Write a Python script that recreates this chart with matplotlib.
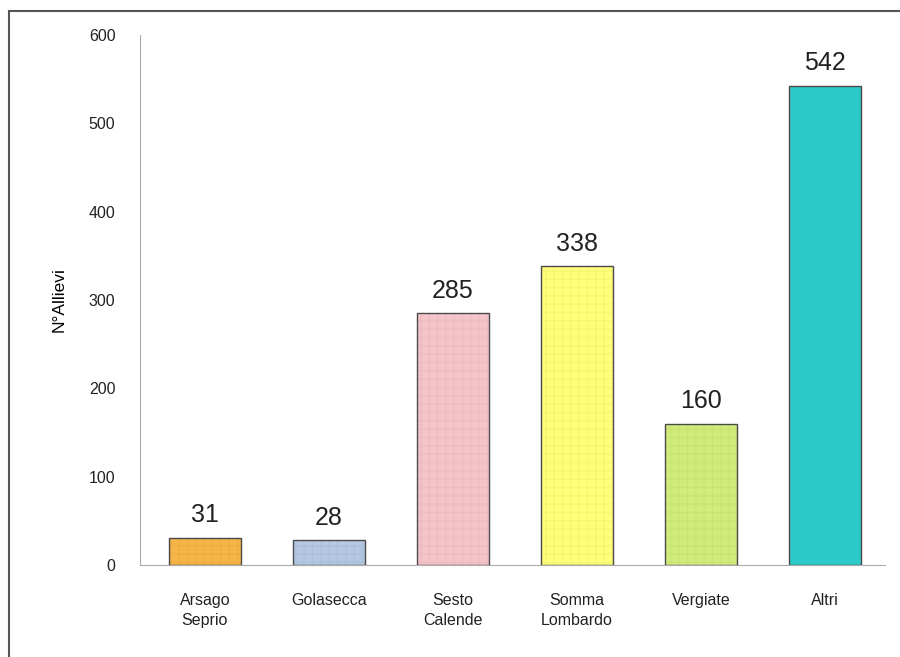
import matplotlib
matplotlib.use('Agg')
import matplotlib.pyplot as plt
from matplotlib.patches import Rectangle

plt.rcParams['font.family'] = ['Liberation Sans', 'DejaVu Sans']

# Data
categories = ['Arsago\nSeprio', 'Golasecca', 'Sesto\nCalende', 'Somma\nLombardo', 'Vergiate', 'Altri']
allievi = [31, 28, 285, 338, 160, 542]
colors = ['#F7B548', '#B4C8E4', '#F4C4C8', '#FFFF7A', '#D2EC7C', '#2ECACA']
hatch_colors = ['#EEAE44', '#ACC0DC', '#ECBCC0', '#F6F672', '#CAE474', '#2ECACA']

fig = plt.figure(figsize=(9, 6.57), dpi=100)
ax = fig.add_axes([0.156, 0.14, 0.827, 0.807])

x = range(len(categories))
# faint grid texture inside the bars
ax.bar(x, allievi, width=0.58, color=colors, edgecolor=hatch_colors,
       hatch='++', linewidth=0, zorder=2)
bars = ax.bar(x, allievi, width=0.58, color='none', edgecolor='#4a4a4a',
              linewidth=1.0, zorder=3)

for xi, v in zip(x, allievi):
    ax.text(xi, v + 12, str(v), ha='center', va='bottom', fontsize=18, color='#222222')

ax.set_ylim(0, 600)
ax.set_xlim(-0.52, 5.48)
ax.set_yticks([0, 100, 200, 300, 400, 500, 600])
ax.set_xticks(list(x))
ax.set_xticklabels(categories, fontsize=11.5, color='#222222', linespacing=1.45)
ax.tick_params(axis='y', length=0, pad=18, labelsize=11.5, labelcolor='#222222')
ax.tick_params(axis='x', length=0, pad=20)
ax.set_ylabel('N°Allievi', fontsize=12.5, labelpad=16)

for s in ['top', 'right']:
    ax.spines[s].set_visible(False)
ax.spines['left'].set_color('#aaaaaa')
ax.spines['bottom'].set_color('#aaaaaa')

# outer frame
fig.patches.append(Rectangle((0.010, -0.05), 1.1, 1.033,
                             transform=fig.transFigure, fill=False,
                             edgecolor='#555555', linewidth=1.5))

fig.savefig('out.png', dpi=100)
